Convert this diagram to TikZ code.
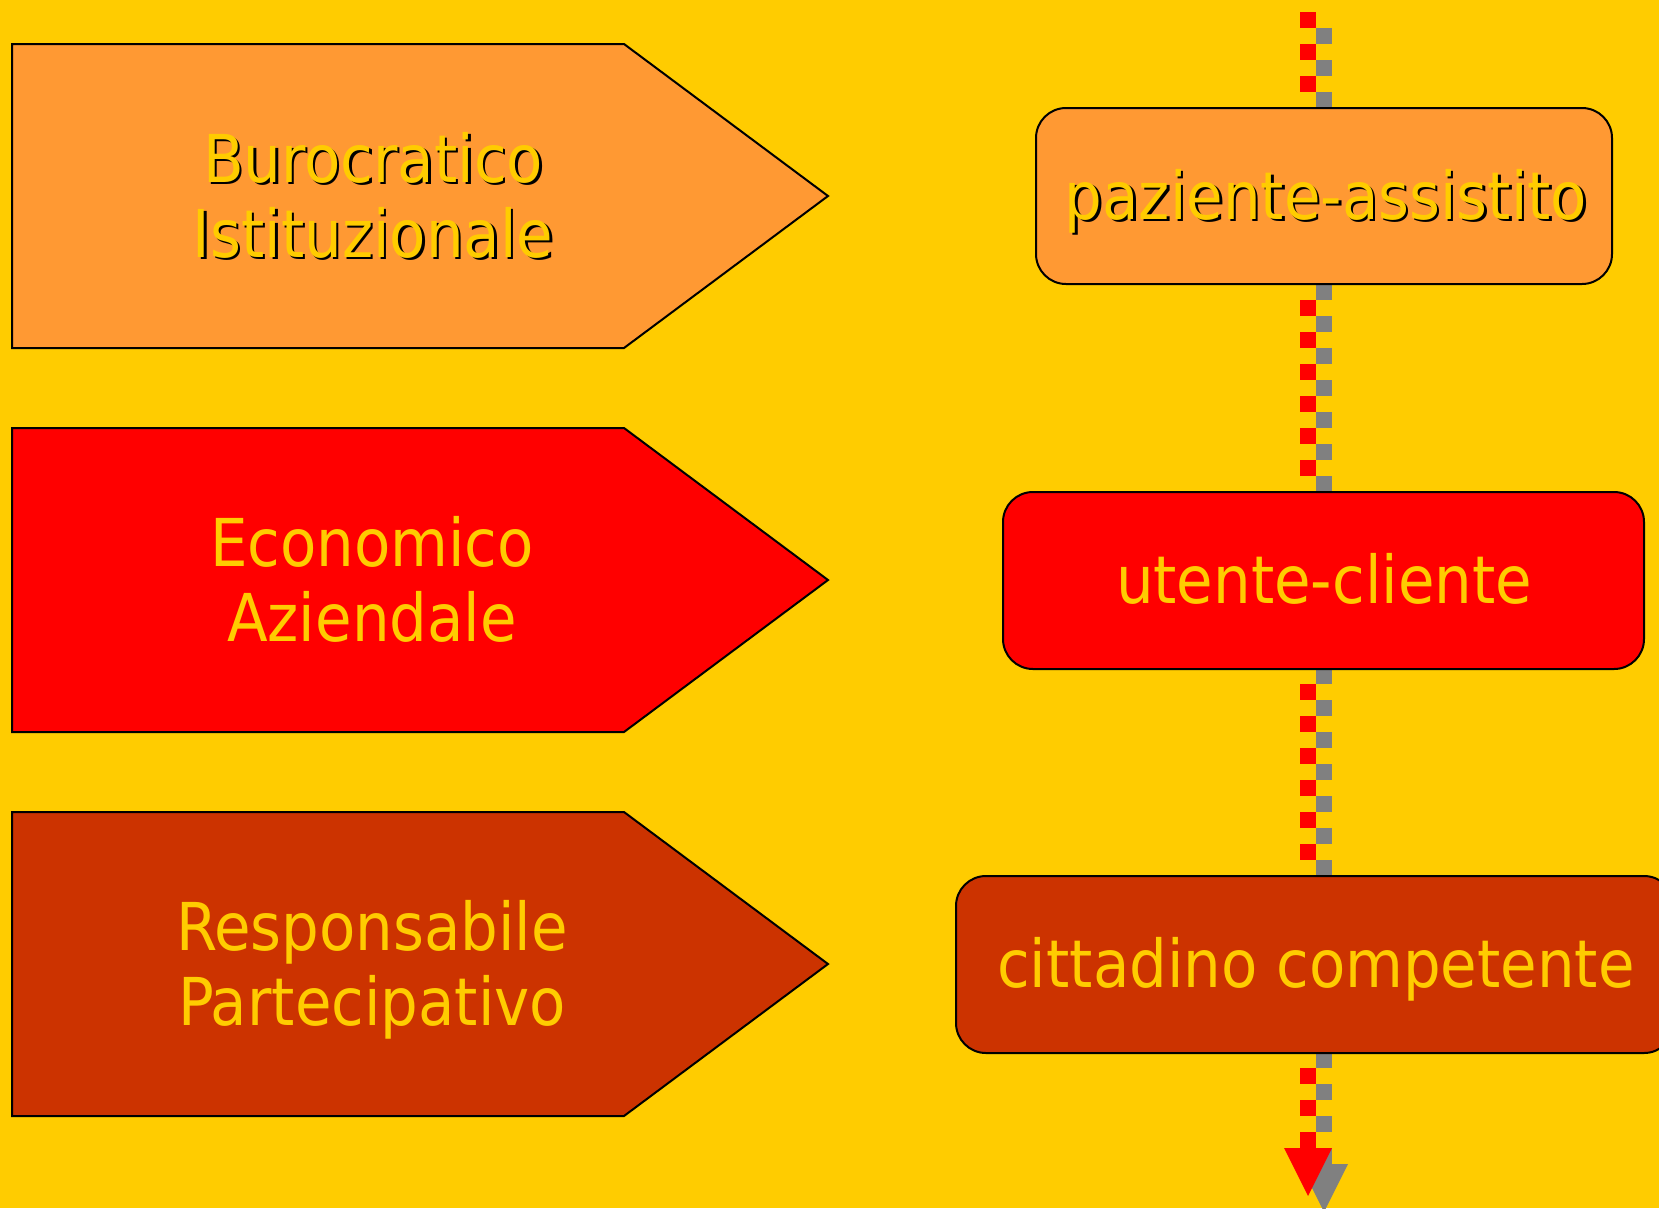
\documentclass[tikz,border=0pt]{standalone}
\usepackage{fontspec}
\setmainfont{DejaVu Sans Condensed}
\definecolor{bg}{HTML}{FFCC00}
\definecolor{cone}{HTML}{FF9933}
\definecolor{ctwo}{HTML}{FF0000}
\definecolor{cthree}{HTML}{CC3300}
\definecolor{greyc}{HTML}{808080}
\newcommand\shtxt[1]{\leavevmode\rlap{\kern2.5pt\raisebox{-2.5pt}{\color{black}#1}}#1}
\begin{document}
\begin{tikzpicture}[x=1pt,y=-1pt,
  pent/.style={draw=black,line width=2pt,line join=miter},
  lbl/.style={text=bg,font=\fontsize{66}{75}\selectfont,inner sep=0pt,anchor=base},
  rbox/.style={draw=black,line width=2pt,rounded corners=30pt},
  dashline/.style={line width=16pt,dash pattern=on 16pt off 16pt}]
\fill[bg] (0,0) rectangle (1659,1208);
\useasboundingbox (0,0) rectangle (1659,1208);
\clip (0,0) rectangle (1659,1208);

% flow arrow
\coordinate (top) at (1308,12);
\coordinate (bot) at (1308,1148);
\draw[dashline,greyc] ([shift={(16,16)}]top) -- ([shift={(16,16)}]bot);
\fill[greyc] ([shift={(-8,16)}]bot) -- ([shift={(40,16)}]bot) -- ([shift={(16,64)}]bot) -- cycle;
\draw[dashline,ctwo] (top) -- (bot);
\fill[ctwo] ([shift={(-24,0)}]bot) -- ([shift={(24,0)}]bot) -- ([shift={(0,48)}]bot) -- cycle;

% pentagons
\path[pent,fill=cone] (12,44) -- (624,44) -- (828,196) -- (624,348) -- (12,348) -- cycle;
\path[pent,fill=ctwo] (12,428) -- (624,428) -- (828,580) -- (624,732) -- (12,732) -- cycle;
\path[pent,fill=cthree] (12,812) -- (624,812) -- (828,964) -- (624,1116) -- (12,1116) -- cycle;

\node[lbl] (p1a) at (373,182) {\shtxt{Burocratico}};
\node[lbl] (p1b) at (373,257) {\shtxt{Istituzionale}};
\node[lbl] (p2a) at (372,566) {Economico};
\node[lbl] (p2b) at (372,641) {Aziendale};
\node[lbl] (p3a) at (372,950) {Responsabile};
\node[lbl] (p3b) at (372,1025) {Partecipativo};

% rounded boxes
\path[rbox,fill=cone] (1036,108) rectangle (1612,284);
\path[rbox,fill=ctwo] (1003,492) rectangle (1644,669);
\path[rbox,fill=cthree] (956,876) rectangle (1674,1053);

\node[lbl] (b1) at (1326,219) {\shtxt{paziente-assistito}};
\node[lbl] (b2) at (1324,603) {utente-cliente};
\node[lbl] (b3) at (1316,987) {cittadino competente};
\end{tikzpicture}
\end{document}
